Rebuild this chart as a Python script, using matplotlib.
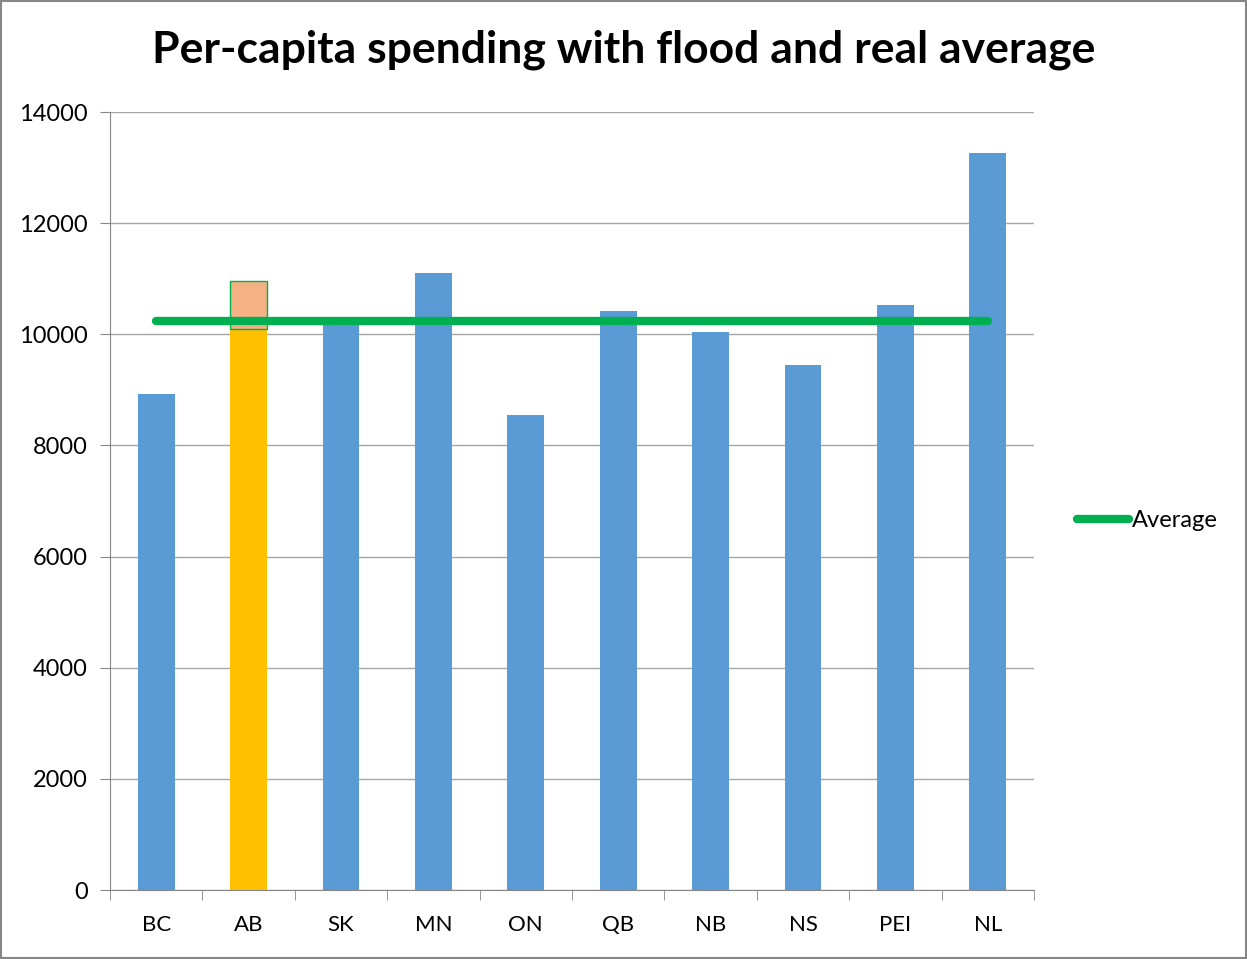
import matplotlib.pyplot as plt
from matplotlib.lines import Line2D
from matplotlib.patches import Rectangle

# values
provinces = ['BC', 'AB', 'SK', 'MN', 'ON', 'QB', 'NB', 'NS', 'PEI', 'NL']
spending = [8920, 10100, 10200, 11110, 8540, 10420, 10050, 9450, 10520, 13270]
flood_extra = 860          # AB flood addition on top of AB bar
average = 10240
highlight = 'AB'

plt.rcParams['font.family'] = ['Lato', 'DejaVu Sans']

fig = plt.figure(figsize=(12.47, 9.59), dpi=100)
ax = fig.add_axes([0.0882, 0.0719, 0.7410, 0.8113])

x = list(range(len(provinces)))
colors = ['#FFC000' if p == highlight else '#5B9BD5' for p in provinces]
ax.bar(x, spending, width=0.4, color=colors, zorder=2)

i = provinces.index(highlight)
ax.bar(i, flood_extra, bottom=spending[i], width=0.4, color='#F4B183',
       edgecolor='#00B050', linewidth=1, zorder=3)

ax.plot([x[0], x[-1]], [average, average], color='#00B050', linewidth=6,
        solid_capstyle='round', zorder=4)

ax.set_xlim(-0.5, len(provinces) - 0.5)
ax.set_ylim(0, 14000)
ax.set_yticks(range(0, 14001, 2000))
ax.set_xticks(x)
ax.set_xticklabels(provinces, fontsize=16)
ax.set_xticks([v - 0.5 for v in range(len(provinces) + 1)], minor=True)
ax.tick_params(axis='x', which='major', length=0, pad=18)
ax.tick_params(axis='x', which='minor', length=7, color='#868686')
ax.tick_params(axis='y', length=7, color='#868686', labelsize=17, pad=9)
ax.grid(axis='y', color='#A6A6A6', linewidth=1, zorder=0)
for s in ['top', 'right']:
    ax.spines[s].set_visible(False)
for s in ['left', 'bottom']:
    ax.spines[s].set_color('#868686')

fig.suptitle('Per-capita spending with flood and real average', fontsize=32,
             fontweight='bold', y=0.948, va='center')

handle = Line2D([], [], color='#00B050', linewidth=6, solid_capstyle='round')
fig.legend([handle], ['Average'], loc='center left', bbox_to_anchor=(0.847, 0.457),
           frameon=False, fontsize=17, handlelength=2.2, handletextpad=0.1)

fig.patches.append(Rectangle((0.001, 0.001), 0.998, 0.998, transform=fig.transFigure,
                             fill=False, edgecolor='#868686', linewidth=1.5))

plt.savefig('out.png', dpi=100)
